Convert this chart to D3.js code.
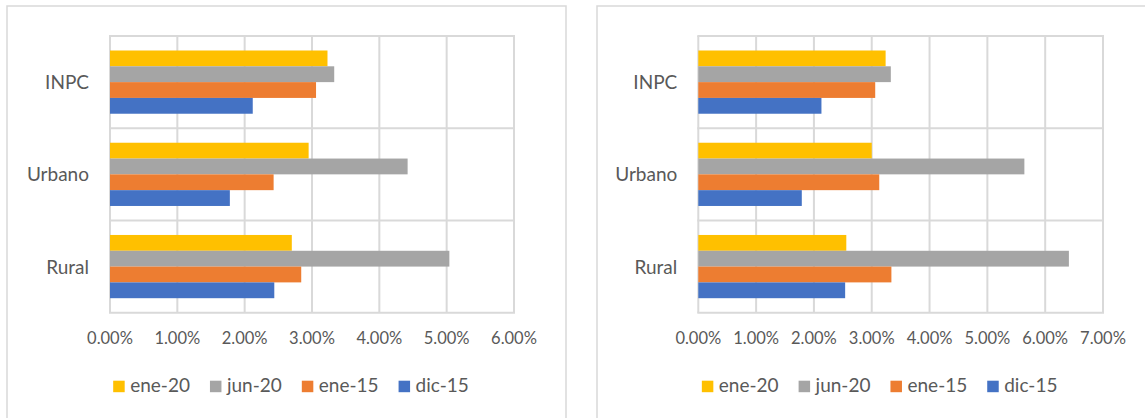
<!DOCTYPE html>
<html>
<head>
<meta charset="utf-8">
<script src="https://cdn.jsdelivr.net/npm/d3@7"></script>
<style>
  body { margin: 0; background: #fff; }
  svg { display: block; font-family: Lato, "Liberation Sans", sans-serif; }
</style>
</head>
<body>
<svg id="chart" width="1145" height="418"></svg>
<script>
// categories, top to bottom
var categories = ["INPC", "Urbano", "Rural"];
// series in the order they are stacked inside each category (and in the legend)
var seriesNames = ["ene-20", "jun-20", "ene-15", "dic-15"];
var seriesColors = ["#FFC000", "#A5A5A5", "#ED7D31", "#4472C4"];

// left chart values
var ene20Left = [0.0323, 0.0295, 0.0270];
var jun20Left = [0.0333, 0.0442, 0.0504];
var ene15Left = [0.0306, 0.0243, 0.0284];
var dic15Left = [0.0212, 0.0178, 0.0244];
var ticksLeft = [0, 0.01, 0.02, 0.03, 0.04, 0.05, 0.06];

// right chart values
var ene20Right = [0.0324, 0.0300, 0.0256];
var jun20Right = [0.0333, 0.0564, 0.0641];
var ene15Right = [0.0306, 0.0313, 0.0334];
var dic15Right = [0.0213, 0.0179, 0.0254];
var ticksRight = [0, 0.01, 0.02, 0.03, 0.04, 0.05, 0.06, 0.07];

var textColor = "#595959";
var gridColor = "#D9D9D9";
var fmt = d3.format(".2%");

var svg = d3.select("#chart");

function drawChart(opts) {
  var g = svg.append("g");

  // chart area border (bottom edge runs off the picture)
  g.append("rect")
    .attr("x", opts.left)
    .attr("y", 6)
    .attr("width", opts.width)
    .attr("height", 440)
    .attr("fill", "#fff")
    .attr("stroke", gridColor)
    .attr("stroke-width", 1.5);

  var x = d3.scaleLinear()
    .domain([0, d3.max(opts.ticks)])
    .range([opts.plotX0, opts.plotX1]);

  var y = d3.scaleBand()
    .domain(categories)
    .range([36, 312.7])
    .paddingInner(0)
    .paddingOuter(0);

  // group of bars inside each category band
  var inner = d3.scaleBand()
    .domain(seriesNames)
    .range([14.5, y.bandwidth() - 14.5]);

  // vertical gridlines
  g.append("g")
    .selectAll("line")
    .data(opts.ticks)
    .join("line")
    .attr("x1", function (d) { return x(d); })
    .attr("x2", function (d) { return x(d); })
    .attr("y1", y.range()[0])
    .attr("y2", y.range()[1])
    .attr("stroke", gridColor)
    .attr("stroke-width", 2);

  // horizontal lines at category boundaries
  var bounds = categories.map(function (c) { return y(c); }).concat([y.range()[1]]);
  g.append("g")
    .selectAll("line")
    .data(bounds)
    .join("line")
    .attr("x1", x.range()[0] - 1)
    .attr("x2", x.range()[1] + 1)
    .attr("y1", function (d) { return d; })
    .attr("y2", function (d) { return d; })
    .attr("stroke", gridColor)
    .attr("stroke-width", 2);

  // bars
  var rows = [];
  seriesNames.forEach(function (s, si) {
    categories.forEach(function (c, ci) {
      rows.push({ series: s, cat: c, value: opts.values[si][ci], color: seriesColors[si] });
    });
  });

  g.append("g")
    .selectAll("rect")
    .data(rows)
    .join("rect")
    .attr("x", x(0))
    .attr("y", function (d) { return y(d.cat) + inner(d.series); })
    .attr("width", function (d) { return x(d.value) - x(0); })
    .attr("height", inner.bandwidth())
    .attr("fill", function (d) { return d.color; });

  // value axis labels
  g.append("g")
    .selectAll("text")
    .data(opts.ticks)
    .join("text")
    .attr("x", function (d) { return x(d); })
    .attr("y", 343.5)
    .attr("text-anchor", "middle")
    .attr("fill", textColor)
    .style("font-size", "16.5px")
    .text(function (d) { return fmt(d); });

  // category labels
  g.append("g")
    .selectAll("text")
    .data(categories)
    .join("text")
    .attr("x", opts.plotX0 - 21)
    .attr("y", function (d) { return y(d) + y.bandwidth() / 2 + 7; })
    .attr("text-anchor", "end")
    .attr("fill", textColor)
    .style("font-size", "19px")
    .text(function (d) { return d; });

  // legend, centred a bit left of the plot centre
  var leg = g.append("g");
  var items = leg.selectAll("g")
    .data(seriesNames)
    .join("g");

  items.append("rect")
    .attr("y", 380.7)
    .attr("width", 11.5)
    .attr("height", 11.5)
    .attr("fill", function (d, i) { return seriesColors[i]; });

  items.append("text")
    .attr("x", 17)
    .attr("y", 392)
    .attr("fill", textColor)
    .style("font-size", "19px")
    .text(function (d) { return d; });

  var pos = 0;
  items.each(function () {
    var w = d3.select(this).select("text").node().getComputedTextLength();
    d3.select(this).attr("transform", "translate(" + pos + ",0)");
    pos += 17 + w + 20;
  });
  var total = pos - 20;
  var center = (opts.plotX0 + opts.plotX1) / 2 - 21;
  leg.attr("transform", "translate(" + (center - total / 2) + ",0)");
}

drawChart({
  left: 7, width: 559,
  plotX0: 110, plotX1: 514,
  ticks: ticksLeft,
  values: [ene20Left, jun20Left, ene15Left, dic15Left]
});

drawChart({
  left: 597, width: 559,
  plotX0: 698.3, plotX1: 1103,
  ticks: ticksRight,
  values: [ene20Right, jun20Right, ene15Right, dic15Right]
});
</script>
</body>
</html>
